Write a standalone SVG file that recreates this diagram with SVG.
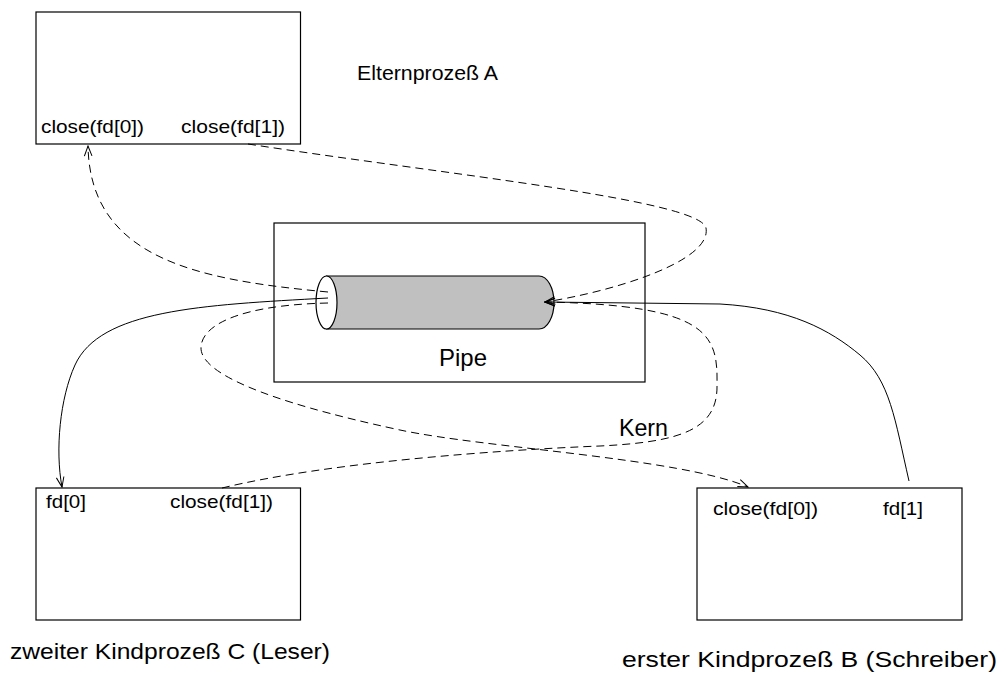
<svg xmlns="http://www.w3.org/2000/svg" width="1002" height="674" viewBox="0 0 1002 674">
<style>
.box{fill:none;stroke:#000;stroke-width:1.2}
.t{font-family:"Liberation Sans",Arial,sans-serif;fill:#000}
.s{font-size:19px}
.m{font-size:24px}
.l{font-size:22px}
.c{fill:none;stroke:#000;stroke-width:1}
.d{stroke-dasharray:8 5}
</style>
<defs>
<marker id="ah" viewBox="-11 -5 12 10" refX="0" refY="0" markerWidth="12" markerHeight="10" markerUnits="userSpaceOnUse" orient="auto">
<path d="M-10,-3.8 L0,0 L-10,3.8" fill="none" stroke="#000" stroke-width="1"/>
</marker>
</defs>
<rect width="1002" height="674" fill="#fff"/>
<g id="nodeA">
<rect class="box" x="36" y="12" width="264.5" height="132"/>
<text class="t s" x="41" y="133" textLength="103" lengthAdjust="spacingAndGlyphs">close(fd[0])</text>
<text class="t s" x="181" y="133" textLength="104" lengthAdjust="spacingAndGlyphs">close(fd[1])</text>
<text class="t s" x="357" y="80" textLength="141" lengthAdjust="spacingAndGlyphs" style="font-size:20px">Elternprozeß A</text>
</g>
<g id="kern">
<rect class="box" x="274" y="223" width="371" height="159"/>
<path d="M326.5,276 L539,276 A15,26.5 0 0 1 539,329 L326.5,329 Z" fill="#c0c0c0" stroke="#000" stroke-width="1.2"/>
<ellipse cx="326.5" cy="302.5" rx="10.5" ry="26.5" fill="#fff" stroke="#000" stroke-width="1.2"/>
<text class="t m" x="439" y="366" textLength="48" lengthAdjust="spacingAndGlyphs">Pipe</text>
<text class="t m" x="619" y="436" textLength="49" lengthAdjust="spacingAndGlyphs">Kern</text>
</g>
<g id="nodeC">
<rect class="box" x="36" y="488" width="264.5" height="132"/>
<text class="t s" x="46" y="508" textLength="40" lengthAdjust="spacingAndGlyphs">fd[0]</text>
<text class="t s" x="170" y="508" textLength="103" lengthAdjust="spacingAndGlyphs">close(fd[1])</text>
<text class="t l" x="10" y="659" textLength="320" lengthAdjust="spacingAndGlyphs">zweiter Kindprozeß C (Leser)</text>
</g>
<g id="nodeB">
<rect class="box" x="697" y="488" width="265" height="132"/>
<text class="t s" x="713" y="515" textLength="105" lengthAdjust="spacingAndGlyphs">close(fd[0])</text>
<text class="t s" x="883" y="515" textLength="40" lengthAdjust="spacingAndGlyphs">fd[1]</text>
<text class="t l" x="622" y="667" textLength="375" lengthAdjust="spacingAndGlyphs">erster Kindprozeß B (Schreiber)</text>
</g>
<g id="connectors">
<path class="c d" d="M328,292 C200,280 90,260 88,146" marker-end="url(#ah)"/>
<path class="c d" d="M248,144 C450,175 700,200 706,228 C712,262 610,292 545,302" marker-end="url(#ah)"/>
<path class="c" d="M909,481 C895,420 890,380 860,355 C830,330 790,308 720,304 L545,302" marker-end="url(#ah)"/>
<path class="c" d="M328,298 C200,305 100,310 75,365 C60,398 55,450 62,487" marker-end="url(#ah)"/>
<path class="c d" d="M328,303 C240,305 201,325 201,348 C201,372 260,400 400,430 C484,448 680,458 748,487" marker-end="url(#ah)"/>
<path class="c d" d="M222,488 C330,462 500,450 600,446 C680,442 718,430 717,385 C718,335 710,305 545,302" marker-end="url(#ah)"/>
</g>
</svg>
